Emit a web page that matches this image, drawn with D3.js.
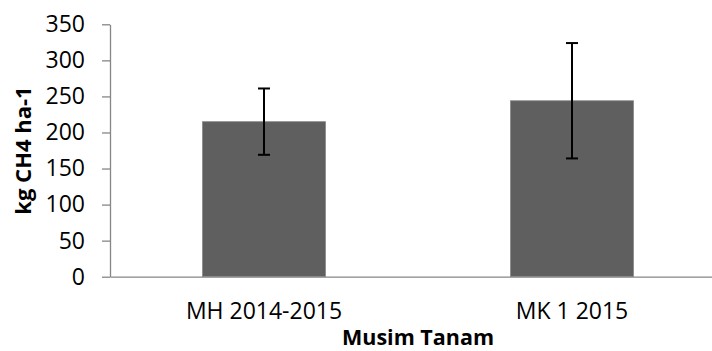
<!DOCTYPE html>
<html>
<head>
<meta charset="utf-8">
<script src="https://cdn.jsdelivr.net/npm/d3@7"></script>
<style>
  html, body { margin: 0; padding: 0; background: #fff; }
  svg { display: block; }
  text { font-family: "Open Sans", sans-serif; fill: #000; }
</style>
</head>
<body>
<svg id="chart" width="712" height="351"></svg>
<script>
const categories = ["MH 2014-2015", "MK 1 2015"];
const values = [215, 244];
const errors = [46, 80];
const yTicks = [0, 50, 100, 150, 200, 250, 300, 350];
const yTitle = "kg CH4 ha-1";
const xTitle = "Musim Tanam";

(function () {
const svg = d3.select("#chart");
const mLeft = 110, mRight = 726, mTop = 24.3, mBottom = 276.7;

const x = d3.scaleBand().domain(categories).range([mLeft, mRight]).padding(0);
const y = d3.scaleLinear().domain([0, 350]).range([mBottom, mTop]);
const barW = x.bandwidth() * 0.4;

// bars
svg.append("g").selectAll("rect").data(categories).join("rect")
  .attr("x", d => x(d) + (x.bandwidth() - barW) / 2)
  .attr("y", (d, i) => y(values[i]))
  .attr("width", barW)
  .attr("height", (d, i) => y(0) - y(values[i]))
  .attr("fill", "#5f5f5f")
  .attr("stroke", "#8c8c8c")
  .attr("stroke-width", 0.8);

// error bars
const eg = svg.append("g").attr("stroke", "#000").attr("stroke-width", 2);
categories.forEach((c, i) => {
  const cx = x(c) + x.bandwidth() / 2;
  const y1 = y(values[i] + errors[i]), y2 = y(values[i] - errors[i]);
  eg.append("line").attr("x1", cx).attr("x2", cx).attr("y1", y1).attr("y2", y2);
  eg.append("line").attr("x1", cx - 6).attr("x2", cx + 6).attr("y1", y1).attr("y2", y1);
  eg.append("line").attr("x1", cx - 6).attr("x2", cx + 6).attr("y1", y2).attr("y2", y2);
});

// y axis
const yAxis = d3.axisLeft(y).tickValues(yTicks).tickSize(8).tickPadding(17).tickSizeOuter(0);
const gy = svg.append("g").attr("transform", `translate(${mLeft},0)`).call(yAxis);
gy.select(".domain").attr("stroke", "#868686").attr("stroke-width", 1.3);
gy.selectAll(".tick line").attr("stroke", "#868686").attr("stroke-width", 1.3);
gy.selectAll(".tick text").attr("font-size", 23).attr("font-family", "Open Sans").attr("fill", "#000");

// x axis
const xAxis = d3.axisBottom(x).tickSize(0).tickPadding(0).tickSizeOuter(0);
const gx = svg.append("g").attr("transform", `translate(0,${mBottom})`).call(xAxis);
gx.select(".domain").attr("stroke", "#868686").attr("stroke-width", 1.3);
gx.selectAll(".tick text").attr("font-size", 23).attr("font-family", "Open Sans")
  .attr("fill", "#000").attr("dy", null).attr("y", 42);

// titles
svg.append("text").attr("x", (mLeft + mRight) / 2).attr("y", 345)
  .attr("text-anchor", "middle").attr("font-size", 21.5).attr("font-weight", "bold")
  .text(xTitle);
svg.append("text").attr("transform", `translate(31,${(mTop + mBottom) / 2}) rotate(-90)`)
  .attr("text-anchor", "middle").attr("font-size", 22).attr("font-weight", "bold")
  .text(yTitle);
})();
</script>
</body>
</html>
